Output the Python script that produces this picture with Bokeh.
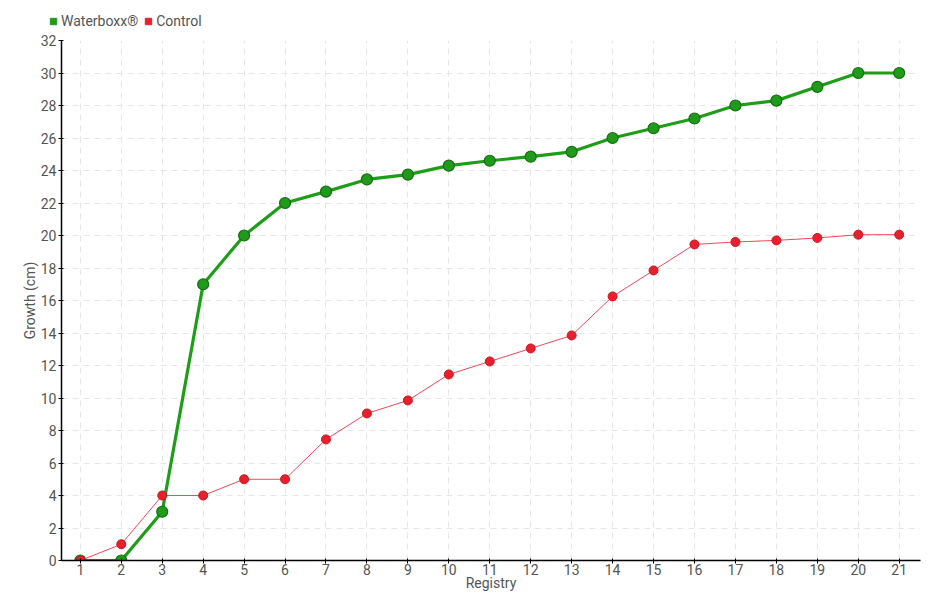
from bokeh.plotting import figure
from bokeh.layouts import column
from bokeh.models import ColumnDataSource, Legend, LegendItem, FixedTicker, Range1d
from bokeh.embed import file_html
from bokeh.resources import INLINE

registry = list(range(1, 22))
waterboxx = [0, 0, 3, 17, 20, 22, 22.7, 23.45, 23.75, 24.3, 24.6, 24.85, 25.15, 26.0, 26.6, 27.2, 28.0, 28.3, 29.15, 30.0, 30.0]
control = [0, 1.0, 4, 4, 5, 5, 7.45, 9.05, 9.85, 11.45, 12.25, 13.05, 13.85, 16.25, 17.85, 19.45, 19.6, 19.7, 19.85, 20.05, 20.05]
y_ticks = list(range(0, 33, 2))
series_names = ["Waterboxx®", "Control"]
series_colors = ["#1f9a1a", "#e81f2c"]

FONT = "Roboto"
TXT = "#555555"

# ---- legend strip above the chart ----
lf = figure(frame_width=930, frame_height=32, output_backend="svg", toolbar_location=None,
            x_axis_location=None, y_axis_location=None, x_range=Range1d(0, 1), y_range=Range1d(0, 1),
            min_border=0)
lf.outline_line_color = None
lf.grid.visible = False
nan = float("nan")
items = []
for name, col in zip(series_names, series_colors):
    r = lf.scatter([nan], [nan], marker="square", size=7, fill_color=col, line_color=col)
    items.append(LegendItem(label=name, renderers=[r]))
legend = Legend(items=items, orientation="horizontal", location=(45, 3),
                label_text_font=FONT, label_text_font_size="14px", label_text_color=TXT,
                glyph_width=16, glyph_height=16, spacing=2, label_standoff=0,
                padding=0, margin=0, border_line_color=None, background_fill_alpha=0)
lf.add_layout(legend, "center")

# ---- main chart ----
p = figure(frame_width=859, frame_height=520, output_backend="svg", toolbar_location=None,
           x_range=Range1d(0.54, 21.52), y_range=Range1d(0, 32),
           min_border_left=61, min_border_right=10, min_border_top=8, min_border_bottom=32)
p.outline_line_color = None
p.background_fill_color = "white"

src = ColumnDataSource(dict(x=registry, w=waterboxx, c=control))

p.line("x", "w", source=src, line_color="#1e9e18", line_width=3.2)
p.scatter("x", "w", source=src, size=11, fill_color=series_colors[0], line_color="#146e10", line_width=1.2)
p.line("x", "c", source=src, line_color="#f2485a", line_width=1)
p.scatter("x", "c", source=src, size=9, fill_color=series_colors[1], line_color="#c41822", line_width=1)

for ax in (p.xaxis[0], p.yaxis[0]):
    ax.axis_line_color = "black"
    ax.axis_line_width = 1.5
    ax.major_tick_line_color = "black"
    ax.major_tick_in = 2
    ax.major_tick_out = 3
    ax.minor_tick_line_color = None
    ax.major_label_text_font = FONT
    ax.major_label_text_font_size = "14px"
    ax.major_label_text_color = TXT
    ax.axis_label_text_font = FONT
    ax.axis_label_text_font_size = "14px"
    ax.axis_label_text_font_style = "normal"
    ax.axis_label_text_color = TXT

p.xaxis.ticker = FixedTicker(ticks=registry)
p.yaxis.ticker = FixedTicker(ticks=y_ticks)
p.xaxis.axis_label = "Registry"
p.yaxis.axis_label = "Growth (cm)"
p.xaxis.axis_label_standoff = -3
p.yaxis.axis_label_standoff = 0
p.xaxis.major_label_standoff = 0
p.yaxis.major_label_standoff = 2

p.xgrid.grid_line_color = "#e6e6e6"
p.ygrid.grid_line_color = "#e6e6e6"
p.xgrid.grid_line_dash = "6 5"
p.ygrid.grid_line_dash = "6 5"

layout = column(lf, p, spacing=0)
open("out.html", "w").write(file_html(layout, INLINE))
